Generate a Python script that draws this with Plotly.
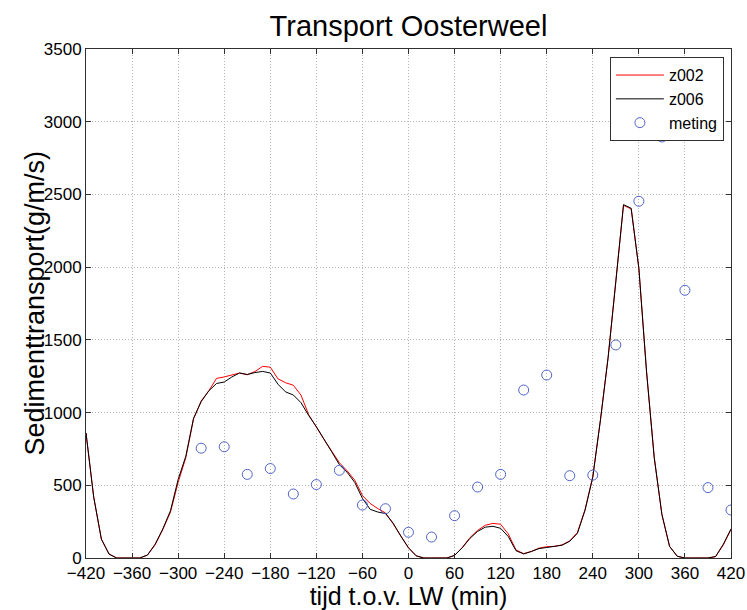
import plotly.graph_objects as go

# time axis for model output (minutes relative to low water)
t_model = list(range(-420, 421, 10))

z006 = [860, 420, 130, 27, 0, 0, 0, 0, 20, 95,
        200, 325, 540, 700, 960, 1075, 1150, 1200, 1210, 1245,
        1272, 1262, 1275, 1283, 1272, 1195, 1142, 1121, 1068, 980,
        903, 820, 730, 642, 590, 520, 410, 335, 316, 306,
        240, 150, 70, 15, 0, 0, 0, 0, 18, 70,
        135, 183, 212, 218, 204, 147, 50, 28, 45, 65,
        72, 78, 88, 115, 170, 330, 555, 950, 1380, 1900,
        2430, 2405, 1990, 1280, 690, 300, 80, 12, 0, 0,
        0, 0, 10, 95, 200]

z002 = [860, 420, 130, 27, 0, 0, 0, 0, 20, 90,
        195, 315, 520, 690, 955, 1080, 1150, 1235, 1245, 1258,
        1272, 1260, 1282, 1318, 1312, 1232, 1205, 1188, 1120, 985,
        895, 815, 735, 655, 600, 535, 430, 375, 340, 310,
        235, 150, 70, 15, 0, 0, 0, 0, 18, 72,
        140, 190, 225, 238, 232, 165, 55, 30, 45, 68,
        78, 80, 90, 118, 175, 335, 560, 950, 1380, 1900,
        2425, 2400, 1995, 1285, 695, 300, 80, 12, 0, 0,
        0, 0, 10, 90, 195]

t_meting = [-270, -240, -210, -180, -150, -120, -90, -60, -30, 0,
            30, 60, 90, 120, 150, 180, 210, 240, 270, 300,
            330, 360, 390, 420]
meting = [755, 765, 575, 615, 440, 505, 603, 364, 339, 177,
          144, 291, 488, 575, 1155, 1258, 566, 570, 1465, 2453,
          2895, 1841, 484, 330]

x_ticks = list(range(-420, 421, 60))
y_ticks = list(range(0, 3501, 500))

FONT = "Liberation Sans, Arial, Helvetica, sans-serif"

fig = go.Figure()
fig.add_trace(go.Scatter(x=t_model, y=z002, mode="lines", name="z002",
                         line=dict(color="#ff0000", width=1)))
fig.add_trace(go.Scatter(x=t_model, y=z006, mode="lines", name="z006",
                         line=dict(color="#000000", width=1)))
fig.add_trace(go.Scatter(x=t_meting, y=meting, mode="markers", name="meting",
                         marker=dict(symbol="circle-open", size=10,
                                     color="rgb(80,100,200)",
                                     line=dict(width=1, color="rgb(80,100,200)"))))

axis_common = dict(
    showline=True, linecolor="#303030", linewidth=1, mirror="ticks",
    ticks="inside", ticklen=5, tickcolor="#303030",
    showgrid=True, gridcolor="#b4b4b4", griddash="1px,2px", gridwidth=1,
    zeroline=False, automargin=False,
    tickfont=dict(size=17, color="#000000", family=FONT),
)

fig.update_layout(
    width=747, height=610,
    margin=dict(l=86, r=16, t=49, b=52),
    paper_bgcolor="white", plot_bgcolor="white",
    font=dict(family=FONT, color="#000000"),
    title=dict(text="Transport Oosterweel", x=(86 + 731) / 2 / 747, xanchor="center",
               y=1 - 26 / 610, yanchor="middle", yref="container",
               font=dict(size=29, color="#000000", family=FONT)),
    xaxis=dict(range=[-420, 420], tickvals=x_ticks,
               title=dict(text="tijd t.o.v. LW (min)", font=dict(size=25, family=FONT),
                          standoff=2),
               **axis_common),
    yaxis=dict(range=[0, 3500], tickvals=y_ticks, **axis_common),
    legend=dict(x=0.989, y=0.984, xanchor="right", yanchor="top",
                bgcolor="white", bordercolor="#303030", borderwidth=1,
                font=dict(size=16, family=FONT), tracegroupgap=0,
                itemwidth=48),
    showlegend=True,
    annotations=[dict(text="Sedimenttransport(g/m/s)", textangle=-90,
                      xref="paper", yref="paper", x=(34 - 86) / 645, y=0.5,
                      xanchor="center", yanchor="middle", showarrow=False,
                      font=dict(size=27, family=FONT, color="#000000"))],
)

fig.write_html("out.html", config={"displayModeBar": False},
               post_script="document.body.style.margin='0';")
